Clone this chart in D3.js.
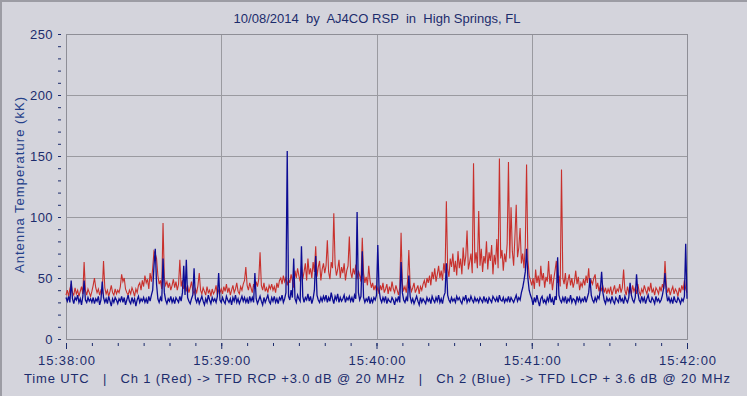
<!DOCTYPE html>
<html>
<head>
<meta charset="utf-8">
<script src="https://cdn.jsdelivr.net/npm/d3@7"></script>
<style>
  html, body { margin: 0; padding: 0; background: #d4d4dc; }
  svg { display: block; }
  text { font-family: "Liberation Sans", Arial, sans-serif; fill: #1c2c6c; white-space: pre; }
</style>
</head>
<body>
<div id="chart"></div>
<script>
var width = 747;
var height = 396;

// antenna temperature (kK), one sample every 0.5 s from 15:38:00
var ch1Red = [
  36,40,35,41,45,38,36,42,37,40,35,39,43,37,63,40,36,41,38,35,
  39,44,50,42,38,41,36,40,38,64,42,37,40,35,39,44,38,36,41,37,
  40,38,43,53,47,50,41,38,36,40,37,42,39,35,41,38,44,46,40,48,
  43,52,46,49,41,54,47,58,72,70,66,52,45,48,41,95,50,44,47,42,
  46,40,44,49,42,47,40,45,65,43,48,41,46,39,44,38,42,47,40,37,
  41,38,44,54,40,37,42,39,36,43,38,40,35,41,37,39,44,36,40,38,
  41,37,43,39,45,38,42,36,40,44,38,41,46,39,37,43,40,45,48,59,
  44,40,46,42,38,45,41,47,43,49,71,44,40,46,39,42,38,44,41,45,
  40,43,38,46,42,48,50,45,52,47,50,44,49,46,53,48,42,56,50,58,
  52,47,60,49,55,62,48,66,53,58,50,63,55,76,51,59,64,48,57,62,
  54,60,81,55,49,63,58,103,61,52,57,65,50,59,54,62,48,56,60,84,
  55,50,58,53,61,49,56,52,47,83,54,46,51,44,60,48,42,46,40,44,
  39,42,37,44,40,46,38,41,45,37,43,39,47,41,38,44,40,36,42,87,
  45,40,43,38,47,73,44,39,42,46,38,41,44,37,43,40,45,48,42,50,
  46,52,44,55,49,58,47,53,60,50,56,48,62,54,113,57,51,66,59,70,
  55,64,52,72,58,66,53,75,60,68,89,57,63,70,54,144,62,71,58,105,
  60,74,55,68,62,80,57,71,64,77,53,69,61,82,58,148,66,73,56,70,
  63,78,145,66,108,72,60,84,110,67,75,91,62,70,58,76,143,65,52,48,
  44,50,41,57,46,52,43,60,48,54,42,51,47,64,45,53,40,49,56,64,
  46,52,43,139,50,45,54,41,48,53,44,50,42,47,56,45,51,40,46,43,
  49,44,52,46,58,42,48,45,50,53,41,46,39,44,40,43,38,42,37,41,
  38,43,36,40,44,37,41,39,45,38,42,57,40,36,43,38,41,37,44,39,
  42,37,45,39,36,41,38,44,40,37,43,39,46,38,41,36,42,40,37,43,
  39,45,41,64,44,38,42,36,40,43,37,41,39,35,42,38,44,40,48,41,
  38
];

var ch2Blue = [
  34,31,35,30,48,33,29,34,32,36,30,33,28,35,48,32,30,34,31,33,
  30,34,29,33,31,35,28,32,47,34,30,33,29,35,31,27,33,30,34,32,
  29,33,31,35,30,34,28,32,36,31,29,34,30,33,27,32,35,30,33,31,
  34,30,33,29,35,31,36,40,60,74,45,33,30,34,31,66,38,32,29,33,
  31,35,30,33,29,34,32,30,35,31,38,60,36,65,34,31,29,33,36,58,
  33,30,34,29,32,35,31,28,33,30,36,32,29,34,31,33,30,35,54,32,
  30,34,31,29,35,32,30,33,28,34,31,36,30,33,29,32,35,31,34,30,
  33,29,35,31,34,30,54,33,29,32,35,31,28,34,30,33,36,31,29,34,
  31,35,30,33,29,34,32,36,30,33,38,154,35,32,40,34,66,33,30,36,
  33,31,76,35,30,34,32,37,31,35,29,33,40,68,36,32,30,34,31,35,
  32,36,30,34,31,38,33,29,35,32,37,30,34,31,33,36,30,34,32,35,
  31,34,30,36,33,104,38,32,35,72,34,30,33,31,35,29,33,30,34,32,
  36,77,40,33,30,34,31,35,29,33,31,30,34,32,28,33,31,35,30,63,
  38,32,30,34,31,52,35,30,33,29,32,35,31,28,34,30,33,31,29,34,
  31,33,29,35,32,30,34,31,36,30,33,29,35,38,62,36,32,30,34,31,
  33,30,35,32,34,31,29,34,32,36,30,33,31,35,32,30,34,31,33,30,
  34,32,30,35,31,33,29,34,32,30,35,33,31,34,30,36,32,31,34,30,
  33,31,35,30,34,32,30,33,36,31,34,32,38,42,48,55,74,50,40,36,
  33,28,34,30,36,31,27,33,35,30,32,29,34,31,37,30,33,28,35,32,
  67,36,32,30,34,31,35,29,33,31,36,30,33,32,29,35,31,34,30,33,
  31,35,30,34,38,50,36,32,30,34,31,35,33,40,55,38,32,29,34,31,
  33,30,35,31,29,34,32,30,36,31,33,29,35,32,30,34,46,36,32,30,
  34,53,38,32,30,35,31,34,29,33,36,31,30,34,32,29,35,31,33,30,
  32,36,42,54,38,31,34,30,33,29,35,31,30,34,32,29,33,31,35,78,
  33
];

var sampleStep = 0.5; // seconds
var yTicks = [0, 50, 100, 150, 200, 250];
var xTicks = [0, 60, 120, 180, 240]; // seconds after 15:38:00
var xTickLabels = ["15:38:00", "15:39:00", "15:40:00", "15:41:00", "15:42:00"];

var titleText = "10/08/2014  by  AJ4CO RSP  in  High Springs, FL";
var yTitle = "Antenna Temperature (kK)";
var caption = "Time UTC   |   Ch 1 (Red) -> TFD RCP +3.0 dB @ 20 MHz   |   Ch 2 (Blue)  -> TFD LCP + 3.6 dB @ 20 MHz";

var plot = { left: 66, right: 687, top: 34, bottom: 339 };

var x = d3.scaleLinear().domain([0, 240]).range([plot.left, plot.right]);
var y = d3.scaleLinear().domain([0, 250]).range([plot.bottom, plot.top]);

var svg = d3.select("#chart").append("svg")
  .attr("width", width)
  .attr("height", height);

svg.append("rect")
  .attr("width", width).attr("height", height)
  .attr("fill", "#d4d4dc");

// window frame (top / left edge)
svg.append("path")
  .attr("d", "M1," + height + "V1H" + width)
  .attr("fill", "none")
  .attr("stroke", "#9c9ca4")
  .attr("stroke-width", 2);

// gridlines
svg.append("g").selectAll("line")
  .data(yTicks.slice(1, -1))
  .enter().append("line")
  .attr("x1", plot.left).attr("x2", plot.right)
  .attr("y1", function (d) { return Math.round(y(d)) + 0.5; })
  .attr("y2", function (d) { return Math.round(y(d)) + 0.5; })
  .attr("stroke", "#9a9aa0");

svg.append("g").selectAll("line")
  .data(xTicks.slice(1, -1))
  .enter().append("line")
  .attr("y1", plot.top).attr("y2", plot.bottom)
  .attr("x1", function (d) { return Math.round(x(d)) + 0.5; })
  .attr("x2", function (d) { return Math.round(x(d)) + 0.5; })
  .attr("stroke", "#9a9aa0");

svg.append("rect")
  .attr("x", plot.left + 0.5).attr("y", plot.top + 0.5)
  .attr("width", plot.right - plot.left).attr("height", plot.bottom - plot.top)
  .attr("fill", "none")
  .attr("stroke", "#8e8e96");

// data lines
var line = d3.line()
  .x(function (d, i) { return x(i * sampleStep); })
  .y(function (d) { return y(d); });

svg.append("path")
  .datum(ch1Red)
  .attr("d", line)
  .attr("fill", "none")
  .attr("stroke", "#c8302c")
  .attr("stroke-width", 1.1);

svg.append("path")
  .datum(ch2Blue)
  .attr("d", line)
  .attr("fill", "none")
  .attr("stroke", "#0c0c94")
  .attr("stroke-width", 1.3);

// y axis: minor dashes + labels
var yMinor = svg.append("g")
  .attr("transform", "translate(61,0)")
  .call(d3.axisLeft(y).tickValues(d3.range(0, 251, 10)).tickSize(3).tickFormat(""));
yMinor.select(".domain").remove();
yMinor.selectAll("line").attr("stroke", "#1c2c6c");

var yMajor = svg.append("g")
  .attr("transform", "translate(61,0)")
  .call(d3.axisLeft(y).tickValues(yTicks).tickSize(1).tickPadding(7));
yMajor.select(".domain").remove();
yMajor.selectAll("line").attr("stroke", "#1c2c6c");
yMajor.selectAll("text")
  .style("font-size", "13px")
  .style("letter-spacing", "0.4px")
  .attr("fill", "#1c2c6c");

// x axis: minor and major ticks below the frame
var xMinor = svg.append("g")
  .attr("transform", "translate(0,343)")
  .call(d3.axisBottom(x).tickValues(d3.range(0, 241, 10)).tickSize(3).tickFormat(""));
xMinor.select(".domain").remove();
xMinor.selectAll("line").attr("stroke", "#1c2c6c");

var xMajor = svg.append("g")
  .attr("transform", "translate(0,343)")
  .call(d3.axisBottom(x).tickValues(xTicks).tickSize(6).tickPadding(7)
    .tickFormat(function (d, i) { return xTickLabels[i]; }));
xMajor.select(".domain").remove();
xMajor.selectAll("line").attr("stroke", "#1c2c6c");
xMajor.selectAll("text")
  .style("font-size", "13px")
  .attr("textLength", 57)
  .attr("fill", "#1c2c6c");

// texts
svg.append("text")
  .attr("x", 377).attr("y", 23)
  .attr("text-anchor", "middle")
  .attr("textLength", 287)
  .style("font-size", "13px")
  .text(titleText);

svg.append("text")
  .attr("transform", "translate(24,185) rotate(-90)")
  .attr("text-anchor", "middle")
  .attr("textLength", 176)
  .style("font-size", "13px")
  .attr("fill", "#24408a")
  .style("fill", "#24408a")
  .text(yTitle);

svg.append("text")
  .attr("x", 377).attr("y", 383)
  .attr("text-anchor", "middle")
  .attr("textLength", 706)
  .style("font-size", "13px")
  .text(caption);
</script>
</body>
</html>
